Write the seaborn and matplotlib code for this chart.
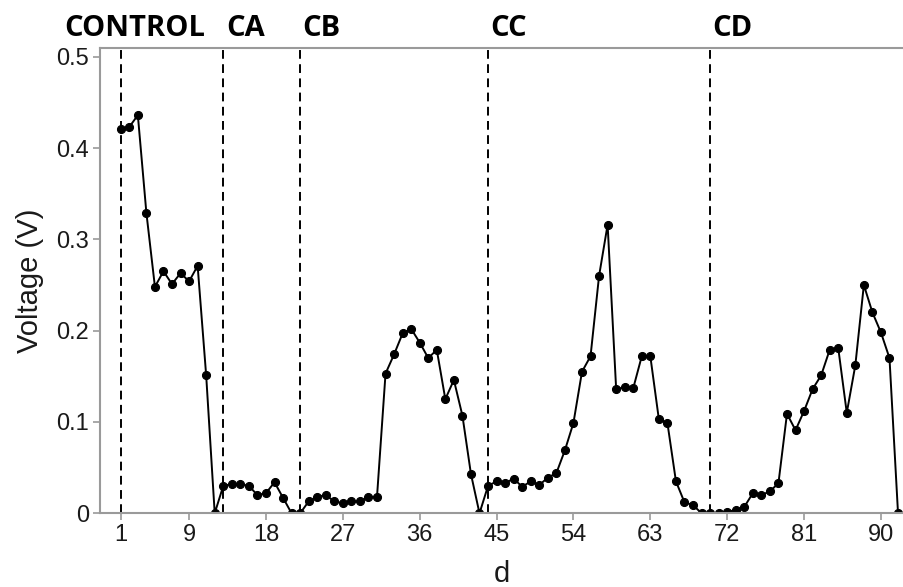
import numpy as np
import pandas as pd
import matplotlib
matplotlib.use("Agg")
import matplotlib.pyplot as plt
import matplotlib.transforms as mtransforms
import seaborn as sns

# ---- data ----
days = list(range(1, 93))
voltage = [
    0.421, 0.423, 0.436, 0.329, 0.248, 0.265, 0.251, 0.263, 0.254, 0.271,   # 1-10
    0.151, 0.000, 0.030, 0.032, 0.032, 0.030, 0.020, 0.022, 0.034, 0.017,   # 11-20
    0.000, 0.000, 0.013, 0.018, 0.020, 0.013, 0.011, 0.013, 0.013, 0.018,   # 21-30
    0.018, 0.153, 0.174, 0.197, 0.202, 0.187, 0.170, 0.179, 0.125, 0.146,   # 31-40
    0.107, 0.043, 0.000, 0.030, 0.035, 0.033, 0.038, 0.029, 0.035, 0.031,   # 41-50
    0.039, 0.044, 0.069, 0.099, 0.155, 0.172, 0.260, 0.316, 0.136, 0.138,   # 51-60
    0.137, 0.172, 0.172, 0.103, 0.099, 0.035, 0.012, 0.009, 0.000, 0.000,   # 61-70
    0.000, 0.001, 0.004, 0.007, 0.022, 0.020, 0.024, 0.033, 0.109, 0.091,   # 71-80
    0.112, 0.136, 0.151, 0.179, 0.181, 0.110, 0.162, 0.250, 0.220, 0.198,   # 81-90
    0.170, 0.000,                                                            # 91-92
]
phase_names = ["CONTROL", "CA", "CB", "CC", "CD"]
phase_starts = [1, 13, 22, 44, 70]
x_ticks = [1, 9, 18, 27, 36, 45, 54, 63, 72, 81, 90]
y_ticks = [0, 0.1, 0.2, 0.3, 0.4, 0.5]
y_tick_labels = ["0", "0.1", "0.2", "0.3", "0.4", "0.5"]

df = pd.DataFrame({"d": days, "Voltage (V)": voltage})

# ---- style ----
sns.set_style("ticks")
plt.rcParams["font.family"] = ["Liberation Sans", "DejaVu Sans"]

W, H, DPI = 904, 587, 100
fig = plt.figure(figsize=(W / DPI, H / DPI), dpi=DPI)
ax = fig.add_axes([100 / W, (H - 513.3) / H, 804 / W, (513.3 - 48) / H])

sns.lineplot(data=df, x="d", y="Voltage (V)", ax=ax, color="black",
             linewidth=1.4, marker="o", markersize=5.8,
             markeredgecolor="black", markerfacecolor="black")

for s in phase_starts:
    ax.axvline(s, color="black", linewidth=1.4, linestyle=(0, (4.5, 2.8)), zorder=1)

ax.set_xlim(-1.43, 92.7)
ax.set_ylim(0, 0.5095)
ax.set_xticks(x_ticks)
ax.set_yticks(y_ticks)
ax.set_yticklabels(y_tick_labels)

grey = "#9a9a9a"
for side in ["left", "bottom", "top"]:
    ax.spines[side].set_color(grey)
    ax.spines[side].set_linewidth(1.5)
ax.spines["right"].set_visible(False)
ax.tick_params(axis="both", colors=grey, length=5, width=1.2, labelsize=17,
               labelcolor="#1a1a1a", pad=3)

ax.set_xlabel("d", fontsize=21, color="#1a1a1a", labelpad=10)
ax.set_ylabel("Voltage (V)", fontsize=21, color="#1a1a1a", labelpad=9)

# phase labels above the axes
trans = mtransforms.blended_transform_factory(ax.transData, fig.transFigure)
for name, s in zip(phase_names, phase_starts):
    xpos = -5.6 if name == "CONTROL" else s + 0.3
    ax.text(xpos, (H - 36) / H, name, transform=trans, ha="left", va="baseline",
            fontsize=21, fontweight="bold", family=["Open Sans", "DejaVu Sans"],
            color="black", clip_on=False)

fig.savefig("out.png", dpi=DPI)
